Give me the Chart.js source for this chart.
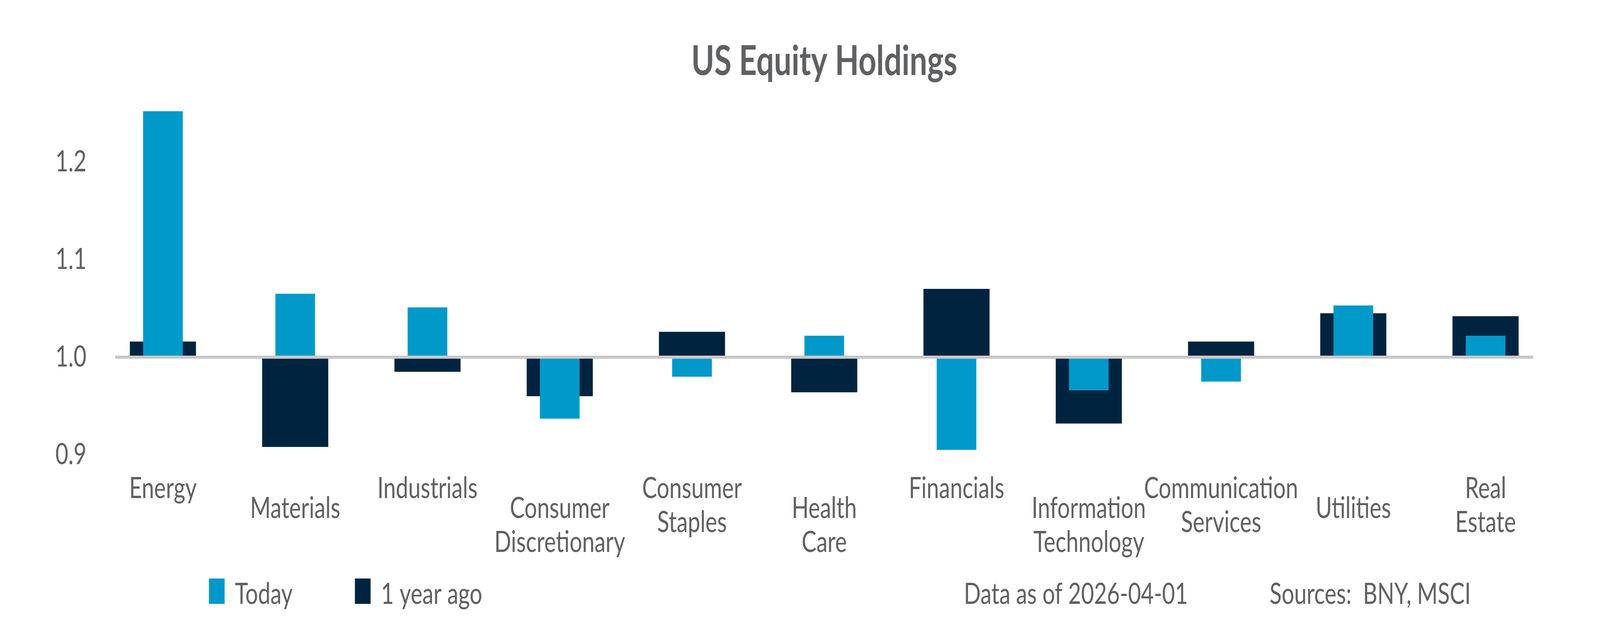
<!DOCTYPE html>
<html>
<head>
<meta charset="utf-8">
<script src="https://cdn.jsdelivr.net/npm/chart.js@4.4.1/dist/chart.umd.min.js"></script>
<style>
  html, body { margin: 0; padding: 0; background: #fff; overflow: hidden; }
  #myChart { display: block; width: 100vw; height: 100vh; }
</style>
</head>
<body>
<canvas id="myChart" width="5400" height="1596" style="width:100vw;height:100vh"></canvas>
<script>
// data
const sectors = [
  ["Energy"], ["Materials"], ["Industrials"], ["Consumer", "Discretionary"],
  ["Consumer", "Staples"], ["Health", "Care"], ["Financials"],
  ["Information", "Technology"], ["Communication", "Services"], ["Utilities"],
  ["Real", "Estate"]
];
const today   = [1.252, 1.065, 1.051, 0.937, 0.980, 1.022, 0.905, 0.966, 0.975, 1.053, 1.022];
const yearAgo = [1.016, 0.908, 0.985, 0.960, 1.026, 0.964, 1.070, 0.932, 1.016, 1.045, 1.042];
const yTicks = [0.9, 1.0, 1.1, 1.2];
const notes = ["Data as of 2026-04-01", "Sources:  BNY, MSCI"];

const grey = "#5f6062";
const family = "Lato, 'Noto Sans', sans-serif";
const font = { family: family, size: 75, lineHeight: 1.16 };

// grey line at 1.0 drawn over the bar bases
const baseLine = {
  id: "baseLine",
  afterDatasetsDraw(chart) {
    const { ctx, chartArea, scales } = chart;
    const y = scales.y.getPixelForValue(1);
    const inset = 0.14 * chartArea.width / sectors.length;
    ctx.save();
    ctx.strokeStyle = "#c8c8c8";
    ctx.lineWidth = 8;
    ctx.beginPath();
    ctx.moveTo(chartArea.left + inset, y);
    ctx.lineTo(chartArea.right - inset, y);
    ctx.stroke();
    ctx.restore();
  }
};

// legend + notes along the bottom line
const footer = {
  id: "footer",
  afterDraw(chart) {
    const ctx = chart.ctx;
    const baseY = 1547;
    ctx.save();
    ctx.font = "75px " + family;
    ctx.textBaseline = "alphabetic";
    ctx.textAlign = "left";
    let x = 705;
    chart.data.datasets.forEach(ds => {
      ctx.fillStyle = ds.backgroundColor;
      ctx.fillRect(x, baseY - 65, 53, 65);
      ctx.fillStyle = grey;
      ctx.fillText(ds.label, x + 88, baseY);
      x += 88 + ctx.measureText(ds.label).width + 210;
    });
    ctx.fillStyle = grey;
    ctx.fillText(notes[0], 3253, baseY);
    ctx.fillText(notes[1], 4285, baseY);
    ctx.restore();
  }
};

const tickRow = (keep, pad) => ({
  autoSkip: false,
  maxRotation: 0,
  minRotation: 0,
  padding: pad,
  color: grey,
  font: font,
  callback: function (v, i) { return i % 2 === keep ? this.getLabelForValue(v) : ""; }
});

const config = {
  type: "bar",
  data: {
    labels: sectors,
    datasets: [
      {
        label: "Today",
        data: today,
        backgroundColor: "#0099ca",
        base: 1,
        grouped: false,
        categoryPercentage: 1,
        barPercentage: 0.3
      },
      {
        label: "1 year ago",
        data: yearAgo,
        backgroundColor: "#00243f",
        base: 1,
        grouped: false,
        categoryPercentage: 1,
        barPercentage: 0.5
      }
    ]
  },
  options: {
    responsive: false,
    devicePixelRatio: 1,
    animation: false,
    events: [],
    layout: { padding: { left: 152, right: 163, top: 0, bottom: 170 } },
    plugins: {
      legend: { display: false },
      tooltip: { enabled: false },
      title: {
        display: true,
        text: "US Equity Holdings",
        fullSize: false,
        color: grey,
        font: { family: family, size: 105, weight: "bold", lineHeight: 1.2 },
        padding: { top: 95, bottom: 44 }
      }
    },
    scales: {
      x: {
        offset: true,
        grid: { display: false, drawTicks: false },
        border: { display: false },
        ticks: tickRow(0, 43.5)
      },
      x2: {
        type: "category",
        axis: "x",
        position: { y: 0.9 },
        offset: true,
        grid: { display: false, drawTicks: false },
        border: { display: false },
        ticks: tickRow(1, 94.5)
      },
      y: {
        min: 0.9,
        max: 1.26,
        beginAtZero: false,
        grid: { display: false, drawTicks: false },
        border: { display: false },
        afterBuildTicks: s => { s.ticks = yTicks.map(v => ({ value: v })); },
        ticks: {
          padding: 35,
          color: grey,
          font: font,
          callback: v => Number(v).toFixed(1)
        }
      }
    }
  },
  plugins: [baseLine, footer]
};

const myChart = new Chart(document.getElementById("myChart"), config);
</script>
</body>
</html>
